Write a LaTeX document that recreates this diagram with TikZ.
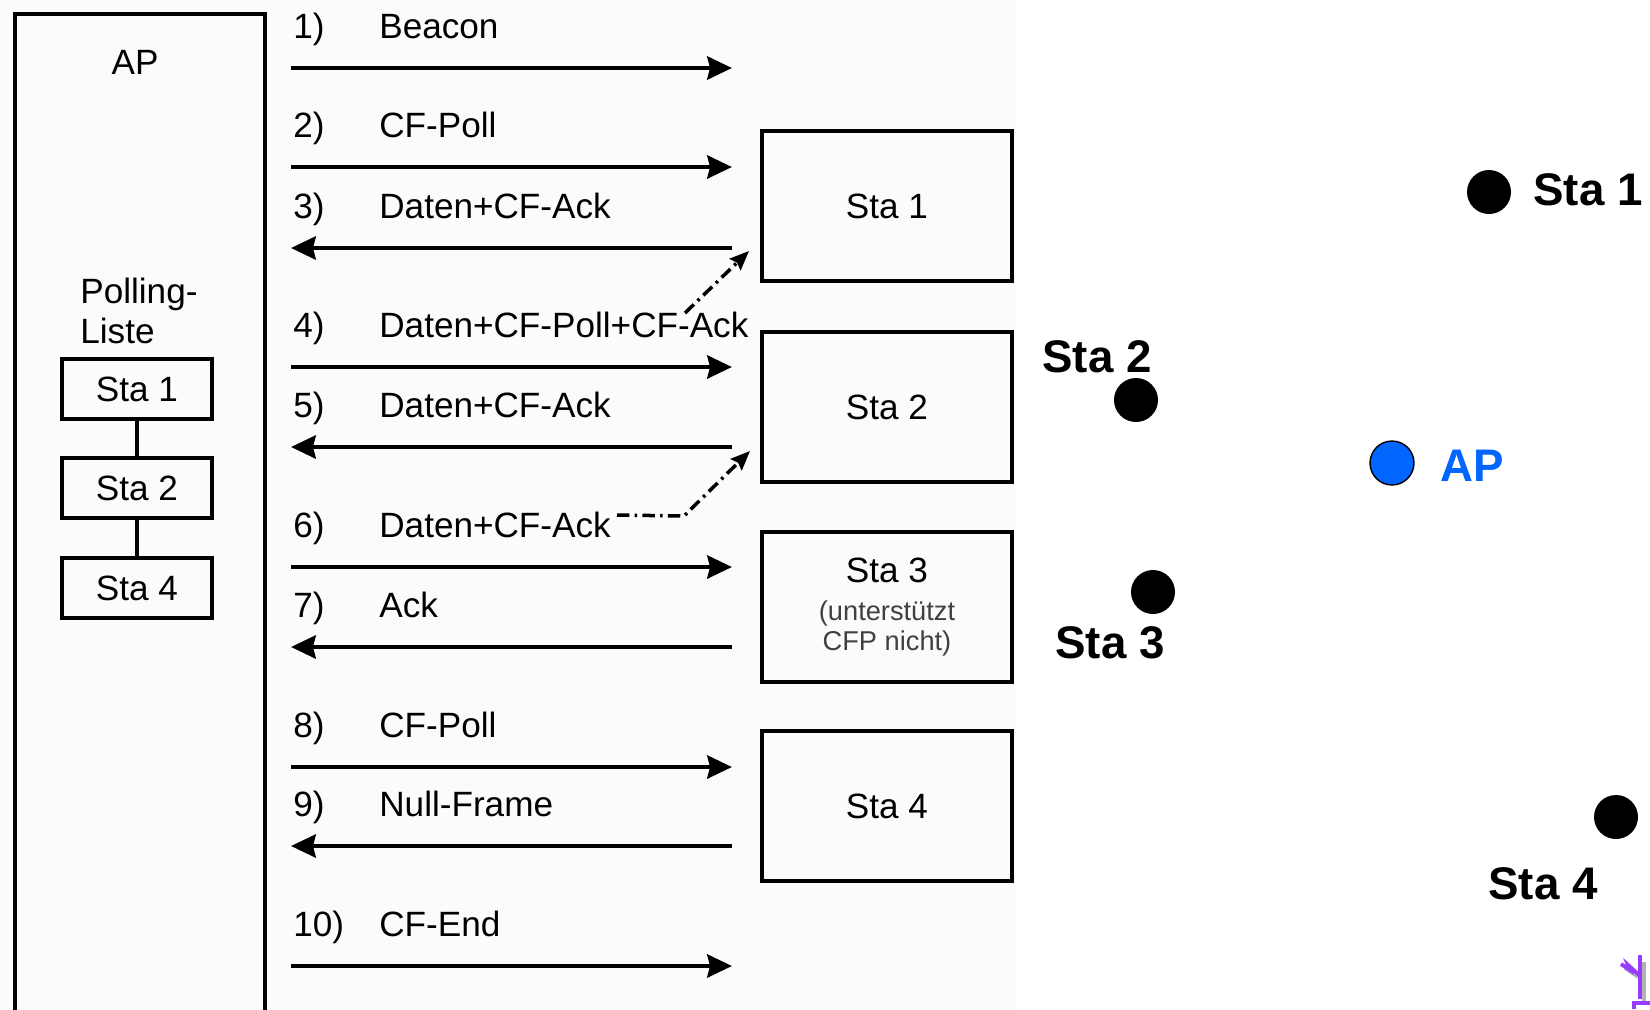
\documentclass[tikz,border=0pt]{standalone}
\usepackage{fontspec}
\setmainfont{Liberation Sans}
\usetikzlibrary{arrows.meta,positioning}

\definecolor{apblue}{RGB}{0,102,255}
\definecolor{antenna}{RGB}{150,60,255}
\newcommand{\msgfont}{\fontsize{20}{22}\selectfont}
\newcommand{\mapfont}{\fontsize{26}{30}\selectfont\bfseries}

\begin{document}
\begin{tikzpicture}[
    x=0.02cm, y=-0.02cm,
    box/.style={rectangle, draw, line width=2.5pt, minimum width=5cm, minimum height=3cm, align=center, font=\msgfont},
    listbox/.style={rectangle, draw, line width=2.5pt, minimum width=3cm, minimum height=1.2cm, font=\msgfont},
    lbl/.style={anchor=base west, inner sep=0pt, font=\msgfont},
    msg/.style={-{Stealth[length=14pt, width=13pt, inset=1.5pt]}, line width=2.8pt},
    hint/.style={-{Stealth[length=11pt, width=9pt, inset=1.5pt]}, line width=2pt, dash pattern=on 7pt off 3pt on 1.5pt off 3pt},
    stadot/.style={circle, fill=black, minimum size=0.88cm, inner sep=0pt},
    staname/.style={anchor=base west, inner sep=0pt, font=\mapfont}
]
    \useasboundingbox (0,0) rectangle (1650,1009);
    \fill[black!1.5] (0,0) rectangle (1015,1009);

    % Access point with its polling list
    \node[draw, line width=2.5pt, minimum width=5cm, minimum height=21cm, anchor=north west] (apbox) at (13,12) {};
    \node[font=\msgfont] (aptitle) at (135,62) {AP};
    \node[font=\fontsize{20}{22.7}\selectfont, align=left, anchor=west, inner sep=0pt] (plist) at (80,311) {Polling-\\Liste};
    \node[listbox] (l1) at (137,389) {Sta 1};
    \node[listbox] (l2) at (137,488) {Sta 2};
    \node[listbox] (l4) at (137,588) {Sta 4};
    \draw[line width=2.5pt] (l1) -- (l2);
    \draw[line width=2.5pt] (l2) -- (l4);

    % Stations
    \node[box] (sta1) at (887,206) {Sta 1};
    \node[box] (sta2) at (887,407) {Sta 2};
    \node[box] (sta3) at (887,607) {Sta 3\\{\fontsize{15.5}{17}\selectfont\color{black!75}(unterstützt}\\[-5pt]{\fontsize{15.5}{17}\selectfont\color{black!75}CFP nicht)}};
    \node[box] (sta4) at (887,806) {Sta 4};

    % Message rows
    \coordinate (s1) at (291,68);   \coordinate (e1) at (732,68);
    \coordinate (s2) at (291,167);  \coordinate (e2) at (732,167);
    \coordinate (s3) at (291,248);  \coordinate (e3) at (732,248);
    \coordinate (s4) at (291,367);  \coordinate (e4) at (732,367);
    \coordinate (s5) at (291,447);  \coordinate (e5) at (732,447);
    \coordinate (s6) at (291,567);  \coordinate (e6) at (732,567);
    \coordinate (s7) at (291,647);  \coordinate (e7) at (732,647);
    \coordinate (s8) at (291,767);  \coordinate (e8) at (732,767);
    \coordinate (s9) at (291,846);  \coordinate (e9) at (732,846);
    \coordinate (s10) at (291,966); \coordinate (e10) at (732,966);

    \node[lbl] (n1) at (293,38) {1)};    \node[lbl] (t1) at (379,38) {Beacon};
    \node[lbl] (n2) at (293,137) {2)};   \node[lbl] (t2) at (379,137) {CF-Poll};
    \node[lbl] (n3) at (293,218) {3)};   \node[lbl] (t3) at (379,218) {Daten+CF-Ack};
    \node[lbl] (n4) at (293,337) {4)};   \node[lbl] (t4) at (379,337) {Daten+CF-Poll+CF-Ack};
    \node[lbl] (n5) at (293,417) {5)};   \node[lbl] (t5) at (379,417) {Daten+CF-Ack};
    \node[lbl] (n6) at (293,537) {6)};   \node[lbl] (t6) at (379,537) {Daten+CF-Ack};
    \node[lbl] (n7) at (293,617) {7)};   \node[lbl] (t7) at (379,617) {Ack};
    \node[lbl] (n8) at (293,737) {8)};   \node[lbl] (t8) at (379,737) {CF-Poll};
    \node[lbl] (n9) at (293,816) {9)};   \node[lbl] (t9) at (379,816) {Null-Frame};
    \node[lbl] (n10) at (293,936) {10)}; \node[lbl] (t10) at (379,936) {CF-End};

    \draw[msg] (s1) -- (e1);
    \draw[msg] (s2) -- (e2);
    \draw[msg] (e3) -- (s3);
    \draw[msg] (s4) -- (e4);
    \draw[msg] (e5) -- (s5);
    \draw[msg] (s6) -- (e6);
    \draw[msg] (e7) -- (s7);
    \draw[msg] (s8) -- (e8);
    \draw[msg] (e9) -- (s9);
    \draw[msg] (s10) -- (e10);

    % Piggybacked acks
    \coordinate (h4a) at (685,313); \coordinate (h4b) at (749,251);
    \draw[hint] (h4a) -- (h4b);
    \coordinate (h6a) at (617,515); \coordinate (h6b) at (684,516); \coordinate (h6c) at (750,451);
    \draw[hint] (h6a) -- (h6b) -- (h6c);

    % Layout of the cell
    \node[stadot] (d1) at (1489,192) {};
    \node[staname] (m1) at (1533,205) {Sta 1};
    \node[stadot] (d2) at (1136,400) {};
    \node[staname] (m2) at (1042,372) {Sta 2};
    \node[stadot, fill=apblue, draw=black, line width=0.8pt] (dap) at (1392,463) {};
    \node[staname, text=apblue] (map) at (1440,481) {AP};
    \node[stadot] (d3) at (1153,592) {};
    \node[staname] (m3) at (1055,658) {Sta 3};
    \node[stadot] (d4) at (1616,817) {};
    \node[staname] (m4) at (1488,899) {Sta 4};

    % Antenna, cut at the corner
    \draw[black!30, line width=2.2pt] (1625,968) -- (1634,974) -- (1632,969) -- (1643,979);
    \draw[black!30, line width=2.2pt] (1644,962) -- (1644,1003);
    \draw[antenna, line width=2.2pt] (1621,964) -- (1630,970) -- (1628,965) -- (1639,975);
    \draw[antenna, line width=2.2pt] (1640,955) -- (1640,999);
    \draw[antenna, line width=2.2pt] (1634,1009) -- (1634,1003) -- (1650,1003);
\end{tikzpicture}
\end{document}
